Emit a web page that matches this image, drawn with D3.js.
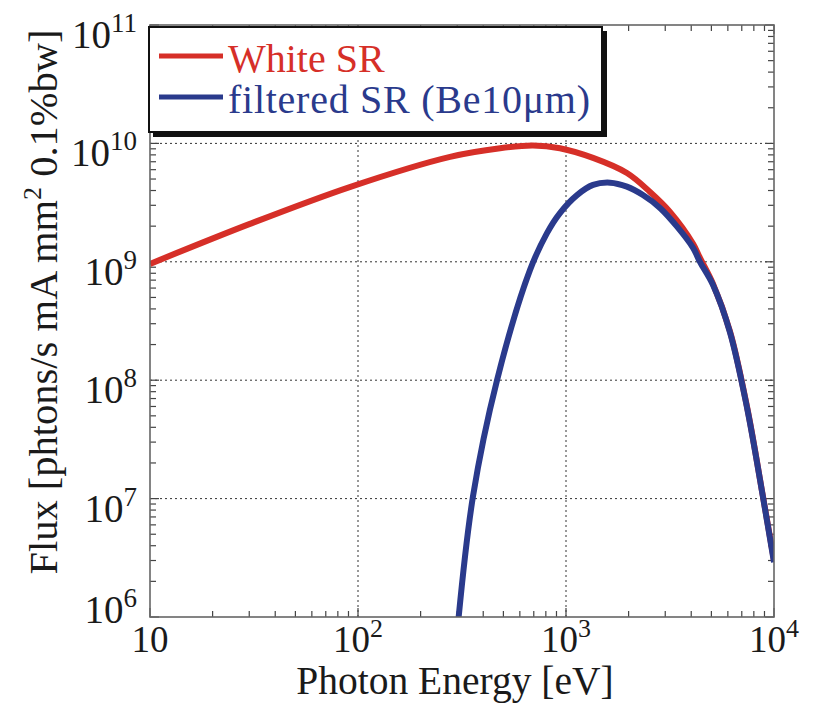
<!DOCTYPE html>
<html>
<head>
<meta charset="utf-8">
<script src="https://cdn.jsdelivr.net/npm/d3@7"></script>
<style>
  body { margin: 0; background: #fff; }
  svg text { font-family: "Liberation Serif", "Times New Roman", "DejaVu Serif", serif; fill: #1a1a1a; }
</style>
</head>
<body>
<div id="vis"></div>
<script>
// data (energy in eV, flux in photons/s mA mm^2 0.1%bw)
const whiteE = [10, 30, 92, 277, 482, 693, 935, 1349, 1963, 2535, 3162, 4083, 4406, 5093, 6138, 7413, 8851, 10000];
const whiteF = [9.6e8, 2.08e9, 4.3e9, 7.7e9, 9.1e9, 9.6e9, 9.1e9, 7.54e9, 5.62e9, 3.89e9, 2.64e9, 1.42e9, 1.08e9, 6.5e8, 2.6e8, 6.0e7, 1.04e7, 3.0e6];

const filtE = [300, 357, 466, 671, 809, 935, 1130, 1349, 1629, 1963, 2344, 2831, 3420, 4083, 4406, 5093, 6138, 7413, 8851, 10000];
const filtF = [7.5e5, 1.04e7, 1.0e8, 8.5e8, 1.74e9, 2.58e9, 3.66e9, 4.46e9, 4.66e9, 4.31e9, 3.66e9, 2.85e9, 1.98e9, 1.31e9, 1.0e9, 6.37e8, 2.55e8, 5.9e7, 1.03e7, 2.9e6];

const xTicks = [10, 100, 1000, 10000];
const xTickExp = ["", "2", "3", "4"];
const yTicks = [1e6, 1e7, 1e8, 1e9, 1e10, 1e11];
const yTickExp = ["6", "7", "8", "9", "10", "11"];

const seriesNames = ["White SR", "filtered SR (Be10\u03bcm)"];
const seriesColors = ["#d62f28", "#2a3a8c"];

const width = 815, height = 704;
const margin = {left: 150, right: 41, top: 25, bottom: 87};
const serif = "'Liberation Serif', 'Times New Roman', 'DejaVu Serif', serif";

const svg = d3.select("#vis").append("svg")
  .attr("width", width).attr("height", height)
  .attr("font-family", serif);

//SCALES
const x = d3.scaleLog().domain([10, 1e4]).range([margin.left, width - margin.right]);
const y = d3.scaleLog().domain([1e6, 1e11]).range([height - margin.bottom, margin.top]);

const x0 = x.range()[0], x1 = x.range()[1];
const y0 = y.range()[0], y1 = y.range()[1];

// minor tick values
function minors(lo, hi) {
  const out = [];
  for (let d = lo; d < hi; d *= 10) {
    for (let k = 2; k <= 9; k++) out.push(d * k);
  }
  return out;
}
const xMinor = minors(10, 1e4);
const yMinor = minors(1e6, 1e11);

//GRID
const grid = svg.append("g").attr("stroke", "#333").attr("stroke-width", 1)
  .attr("stroke-dasharray", "2,3");
grid.selectAll(".vg").data(xTicks.slice(1, -1)).enter().append("line")
  .attr("x1", d => x(d)).attr("x2", d => x(d)).attr("y1", y0).attr("y2", y1);
grid.selectAll(".hg").data(yTicks.slice(1, -1)).enter().append("line")
  .attr("y1", d => y(d)).attr("y2", d => y(d)).attr("x1", x0).attr("x2", x1);

//TICKS (inward on all four sides)
const ticks = svg.append("g").attr("stroke", "#444").attr("stroke-width", 1.2);
const tx = xTicks.map(v => ({v, len: 9})).concat(xMinor.map(v => ({v, len: 6})));
const ty = yTicks.map(v => ({v, len: 9})).concat(yMinor.map(v => ({v, len: 6})));
tx.forEach(t => {
  ticks.append("line").attr("x1", x(t.v)).attr("x2", x(t.v)).attr("y1", y0).attr("y2", y0 - t.len);
  ticks.append("line").attr("x1", x(t.v)).attr("x2", x(t.v)).attr("y1", y1).attr("y2", y1 + t.len);
});
ty.forEach(t => {
  ticks.append("line").attr("y1", y(t.v)).attr("y2", y(t.v)).attr("x1", x0).attr("x2", x0 + t.len);
  ticks.append("line").attr("y1", y(t.v)).attr("y2", y(t.v)).attr("x1", x1).attr("x2", x1 - t.len);
});

//CURVES
svg.append("clipPath").attr("id", "clip").append("rect")
  .attr("x", x0).attr("y", y1).attr("width", x1 - x0).attr("height", y0 - y1);

const line = d3.line().x(d => x(d[0])).y(d => y(d[1])).curve(d3.curveCatmullRom.alpha(0.5));
const curves = svg.append("g").attr("clip-path", "url(#clip)");
curves.append("path").datum(whiteE.map((e, i) => [e, whiteF[i]]))
  .attr("d", line).attr("fill", "none").attr("stroke", seriesColors[0]).attr("stroke-width", 6);
curves.append("path").datum(filtE.map((e, i) => [e, filtF[i]]))
  .attr("d", line).attr("fill", "none").attr("stroke", seriesColors[1]).attr("stroke-width", 6);

//FRAME
svg.append("rect").attr("x", x0).attr("y", y1).attr("width", x1 - x0).attr("height", y0 - y1)
  .attr("fill", "none").attr("stroke", "#666").attr("stroke-width", 1.6);

//TICK LABELS
const xl = svg.append("g");
xTicks.forEach((v, i) => {
  const t = xl.append("text").attr("x", x(v)).attr("y", y0 + 35)
    .attr("text-anchor", "middle").attr("font-size", 37);
  t.append("tspan").text("10");
  if (xTickExp[i]) t.append("tspan").attr("dy", -15).attr("font-size", 26).text(xTickExp[i]);
});
const yl = svg.append("g");
yTicks.forEach((v, i) => {
  const off = i === 0 ? 6 : 23;
  const t = yl.append("text").attr("x", x0 - 13).attr("y", y(v) + off)
    .attr("text-anchor", "end").attr("font-size", 39);
  t.append("tspan").text("10");
  t.append("tspan").attr("dy", -16).attr("font-size", 27).text(yTickExp[i]);
});

//AXIS TITLES
svg.append("text").attr("x", (x0 + x1) / 2 - 7).attr("y", 694)
  .attr("text-anchor", "middle").attr("font-size", 39.5).text("Photon Energy [eV]");
const yt = svg.append("text").attr("transform", "translate(57," + 302 + ") rotate(-90)")
  .attr("text-anchor", "middle").attr("font-size", 40.5);
yt.append("tspan").text("Flux [phtons/s mA mm");
yt.append("tspan").attr("dy", -16).attr("font-size", 26).text("2");
yt.append("tspan").attr("dy", 16).text(" 0.1%bw]");

//LEGEND
const lg = svg.append("g");
lg.append("rect").attr("x", 153).attr("y", 31).attr("width", 454).attr("height", 106).attr("fill", "#111");
lg.append("rect").attr("x", 149).attr("y", 27).attr("width", 453).attr("height", 105)
  .attr("fill", "#fff").attr("stroke", "#111").attr("stroke-width", 2);
seriesNames.forEach((name, i) => {
  const ly = 56 + i * 41;
  lg.append("line").attr("x1", 159).attr("x2", 223).attr("y1", ly).attr("y2", ly)
    .attr("stroke", seriesColors[i]).attr("stroke-width", 5);
  const t = lg.append("text").attr("x", 228).attr("y", ly + 16).attr("font-size", 40)
    .style("fill", seriesColors[i]).text(name);
  if (i === 1) t.attr("textLength", 362).attr("lengthAdjust", "spacing");
});
</script>
</body>
</html>
